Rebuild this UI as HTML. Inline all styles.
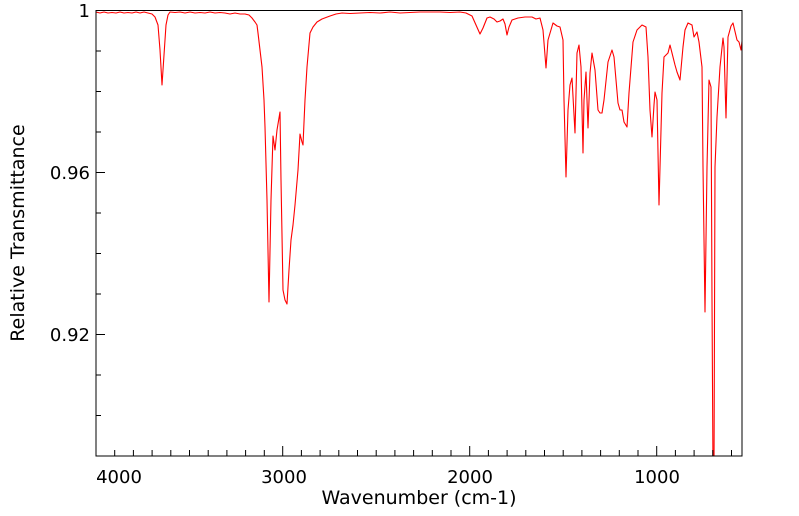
<!DOCTYPE html>
<html><head><meta charset="utf-8"><style>
html,body{margin:0;padding:0;background:#fff;}
svg{display:block;font-family:"DejaVu Sans","Liberation Sans",sans-serif;}
</style></head><body>
<svg width="799" height="516" viewBox="0 0 799 516" xmlns="http://www.w3.org/2000/svg">
<defs><clipPath id="c"><rect x="96" y="10" width="646" height="446"/></clipPath></defs>
<g clip-path="url(#c)">
<path fill="none" stroke="#ff0000" stroke-width="1.1" stroke-linejoin="round" d="
M96,12 L100,13 L104,12 L108,13 L112,12.5 L116,13 L120,12 L124,13 L128,12.5 L132,13 L136,12 L140,13 L144,12 L148,13 L152,14 L155,17 L158,25 L160,50 L162,85 L164,55 L166,25 L168,15 L170,12 L175,12.5 L180,12 L185,13 L190,12 L195,13 L200,12.5 L205,13 L210,12 L215,13 L220,12.5 L225,13 L230,14 L235,13 L240,14 L245,14 L249,15 L252,18 L255,22 L257,25 L258,33 L260,50 L262,67 L264,100 L265,127 L267,200 L269,302 L271,200 L273,136 L275,150 L277,130 L280,112 L281,180 L283,290 L285,300 L287,304 L289,270 L291,240 L293,225 L295,205 L298,170 L300,134 L302,142 L303,145 L305,100 L307,67 L310,33 L313,27 L317,22 L322,19 L330,16 L336,14 L342,13 L350,13.5 L360,13 L370,12.5 L380,13 L390,12 L400,13 L410,12.5 L420,12 L430,12 L440,12 L450,12.5 L460,12 L466,13 L472,16 L476,25 L480,34 L483,28 L487,18 L490,17 L494,19 L497,22 L500,21 L503,19 L505,24 L507,35 L509,27 L512,20 L518,18 L525,17 L532,17 L536,19 L540,18
L543,30 L546,68 L548,40 L553,23 L557,26 L560,27 L563,40 L564,100 L566,177 L568,110 L570,85 L572,78 L575,133 L577,53 L579,45 L581,67 L583,153 L584,100 L586,72 L588,128 L590,73 L592,53 L595,70 L598,110 L600,113 L602,113 L604,100 L608,62 L612,50 L614,57 L618,103 L620,110 L622,110 L624,122 L627,127 L629,93 L633,42 L637,30 L642,25 L646,27 L648,57 L650,110 L652,137 L654,105 L655,92 L657,100 L659,205 L662,93 L664,57 L668,53 L670,45 L673,57 L675,65 L677,72 L680,80 L683,47 L685,30 L688,23 L692,25 L694,37 L697,32 L699,42 L702,67 L703,167 L705,312 L707,167 L709,80 L711,87 L712,300 L713,470 L714,470 L715,167 L717,117 L720,67 L723,38 L724,47 L726,118 L728,37 L731,26 L733,23 L737,40 L739,42 L741,50 L743,33"/>
</g>
<rect x="96" y="10.5" width="646" height="445.5" fill="none" stroke="#000" stroke-width="1"/>
<g stroke="#000" stroke-width="1">
<line x1="96" y1="10.5" x2="105" y2="10.5"/><line x1="96" y1="172.5" x2="105" y2="172.5"/><line x1="96" y1="334.5" x2="105" y2="334.5"/>
<line x1="96" y1="51" x2="101" y2="51"/><line x1="96" y1="91.5" x2="101" y2="91.5"/><line x1="96" y1="132" x2="101" y2="132"/>
<line x1="96" y1="213" x2="101" y2="213"/><line x1="96" y1="253.5" x2="101" y2="253.5"/><line x1="96" y1="294" x2="101" y2="294"/>
<line x1="96" y1="375" x2="101" y2="375"/><line x1="96" y1="415.5" x2="101" y2="415.5"/>
<line x1="282.7" y1="456" x2="282.7" y2="446"/><line x1="469.7" y1="456" x2="469.7" y2="446"/><line x1="656.7" y1="456" x2="656.7" y2="446"/>
</g>
<g stroke="#000" stroke-width="1">
<path d="M114.7,456v-6M133.4,456v-6M152.1,456v-6M170.8,456v-6M189.5,456v-6M208.2,456v-6M226.9,456v-6M245.6,456v-6M264.3,456v-6M301.4,456v-6M320.1,456v-6M338.8,456v-6M357.5,456v-6M376.2,456v-6M394.9,456v-6M413.6,456v-6M432.3,456v-6M451,456v-6M488.4,456v-6M507.1,456v-6M525.8,456v-6M544.5,456v-6M563.2,456v-6M581.9,456v-6M600.6,456v-6M619.3,456v-6M638,456v-6M675.4,456v-6M694.1,456v-6M712.8,456v-6M731.5,456v-6"/>
</g>
<g font-size="18" fill="#000">
<text x="90" y="17" text-anchor="end">1</text>
<text x="90" y="179" text-anchor="end">0.96</text>
<text x="90" y="341" text-anchor="end">0.92</text>
<text x="119" y="483" text-anchor="middle">4000</text>
<text x="284" y="483" text-anchor="middle">3000</text>
<text x="470" y="483" text-anchor="middle">2000</text>
<text x="657" y="483" text-anchor="middle">1000</text>
<text x="419" y="504" text-anchor="middle" font-size="19">Wavenumber (cm-1)</text>
<text transform="translate(24,233) rotate(-90)" text-anchor="middle" font-size="19">Relative Transmittance</text>
</g>
</svg>
</body></html>
